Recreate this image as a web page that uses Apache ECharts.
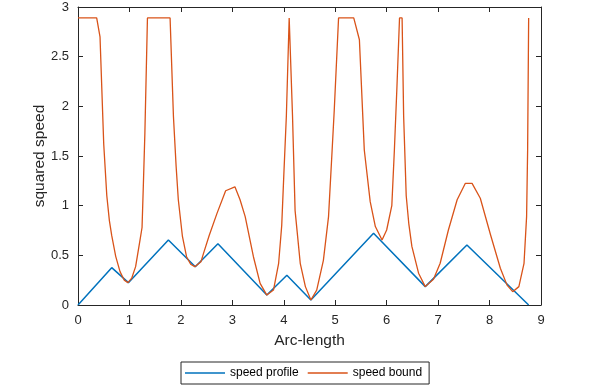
<!DOCTYPE html>
<html>
<head>
<meta charset="utf-8">
<script src="https://cdn.jsdelivr.net/npm/echarts@6/dist/echarts.min.js"></script>
<style>
  html, body { margin: 0; padding: 0; background: #fff; }
  #chart { width: 598px; height: 389px; }
</style>
</head>
<body>
<div id="chart"></div>
<script>
// speed profile (piecewise linear)
var profileS = [0, 0.655, 0.98, 1.757, 2.28, 2.72, 3.67, 4.06, 4.527, 5.745, 6.75, 7.56, 8.76];
var profileV = [0, 0.376, 0.225, 0.655, 0.386, 0.617, 0.10, 0.299, 0.05, 0.722, 0.185, 0.604, 0];

// speed bound
var boundS = [0, 0.363, 0.428, 0.50, 0.56, 0.61, 0.655, 0.733, 0.817, 0.90, 0.97, 1.044, 1.12,
  1.206, 1.245, 1.27, 1.30, 1.35, 1.79, 1.855, 1.907, 1.95, 2.03, 2.11, 2.19, 2.27, 2.39, 2.44,
  2.55, 2.70, 2.87, 3.05, 3.15, 3.25, 3.41, 3.54, 3.67, 3.80, 3.90, 3.96, 4.0, 4.05, 4.105,
  4.17, 4.22, 4.32, 4.42, 4.527, 4.64, 4.77, 4.87, 4.94, 4.98, 5.065, 5.36, 5.47, 5.565, 5.68,
  5.78, 5.91, 6.0, 6.10, 6.15, 6.20, 6.25, 6.30, 6.33, 6.38, 6.43, 6.49, 6.62, 6.75, 6.91,
  7.04, 7.20, 7.37, 7.53, 7.66, 7.82, 8.02, 8.21, 8.34, 8.45, 8.57, 8.67, 8.72, 8.74, 8.76];
var boundV = [2.89, 2.89, 2.70, 1.62, 1.10, 0.85, 0.70, 0.49, 0.336, 0.25, 0.225, 0.27, 0.386,
  0.655, 0.78, 1.2, 1.73, 2.89, 2.89, 1.90, 1.40, 1.06, 0.69, 0.486, 0.41, 0.386, 0.436, 0.52,
  0.70, 0.92, 1.15, 1.19, 1.06, 0.89, 0.486, 0.218, 0.10, 0.15, 0.42, 0.80, 1.3, 1.90, 2.89,
  1.90, 0.95, 0.42, 0.185, 0.05, 0.15, 0.45, 0.89, 1.56, 1.95, 2.89, 2.89, 2.67, 1.56, 1.04,
  0.79, 0.655, 0.755, 1.0, 1.56, 2.2, 2.89, 2.89, 1.9, 1.1, 0.82, 0.59, 0.32, 0.185, 0.26,
  0.42, 0.755, 1.06, 1.225, 1.225, 1.075, 0.705, 0.37, 0.20, 0.134, 0.185, 0.42, 0.89, 1.56, 2.89];

var xTicks = { min: 0, max: 9, interval: 1 };
var yTicks = { min: 0, max: 3, interval: 0.5 };

function pairs(xs, ys) {
  return xs.map(function (x, i) { return [x, ys[i]]; });
}

var axisColor = '#262626';
var font = 'Liberation Sans';

function boxAxis(pos, ticks, showLabel, extra) {
  var a = {
    type: 'value',
    position: pos,
    min: ticks.min,
    max: ticks.max,
    interval: ticks.interval,
    splitLine: { show: false },
    axisLine: { show: true, onZero: false, lineStyle: { color: axisColor, width: 1 } },
    axisTick: { show: true, inside: true, length: 5, lineStyle: { color: axisColor } },
    axisLabel: { show: showLabel, color: axisColor, fontFamily: font, fontSize: 13, margin: 9 }
  };
  for (var k in extra) a[k] = extra[k];
  return a;
}

var chart = echarts.init(document.getElementById('chart'));
chart.setOption({
  animation: false,
  grid: { left: 78, right: 57, top: 7, bottom: 84 },
  legend: {
    left: 181,
    top: 362,
    padding: [5, 7, 5, 4],
    itemGap: 9,
    itemWidth: 40,
    itemHeight: 1.5,
    icon: 'rect',
    borderColor: axisColor,
    borderWidth: 1,
    borderRadius: 0,
    textStyle: { color: '#000', fontFamily: font, fontSize: 12 },
    data: ['speed profile', 'speed bound']
  },
  xAxis: [
    boxAxis('bottom', xTicks, true, {
      name: 'Arc-length', nameLocation: 'middle', nameGap: 28, nameMoveOverlap: false,
      nameTextStyle: { color: axisColor, fontFamily: font, fontSize: 15.5 }
    }),
    boxAxis('top', xTicks, false, {})
  ],
  yAxis: [
    boxAxis('left', yTicks, true, {
      name: 'squared speed', nameLocation: 'middle', nameGap: 30, nameMoveOverlap: false,
      nameTextStyle: { color: axisColor, fontFamily: font, fontSize: 15.5 }
    }),
    boxAxis('right', yTicks, false, {})
  ],
  series: [
    {
      name: 'speed profile', type: 'line', symbol: 'none',
      lineStyle: { color: '#0072BD', width: 1.5 }, itemStyle: { color: '#0072BD' },
      data: pairs(profileS, profileV)
    },
    {
      name: 'speed bound', type: 'line', symbol: 'none',
      lineStyle: { color: '#D95319', width: 1.3 }, itemStyle: { color: '#D95319' },
      data: pairs(boundS, boundV)
    }
  ]
});
</script>
</body>
</html>
